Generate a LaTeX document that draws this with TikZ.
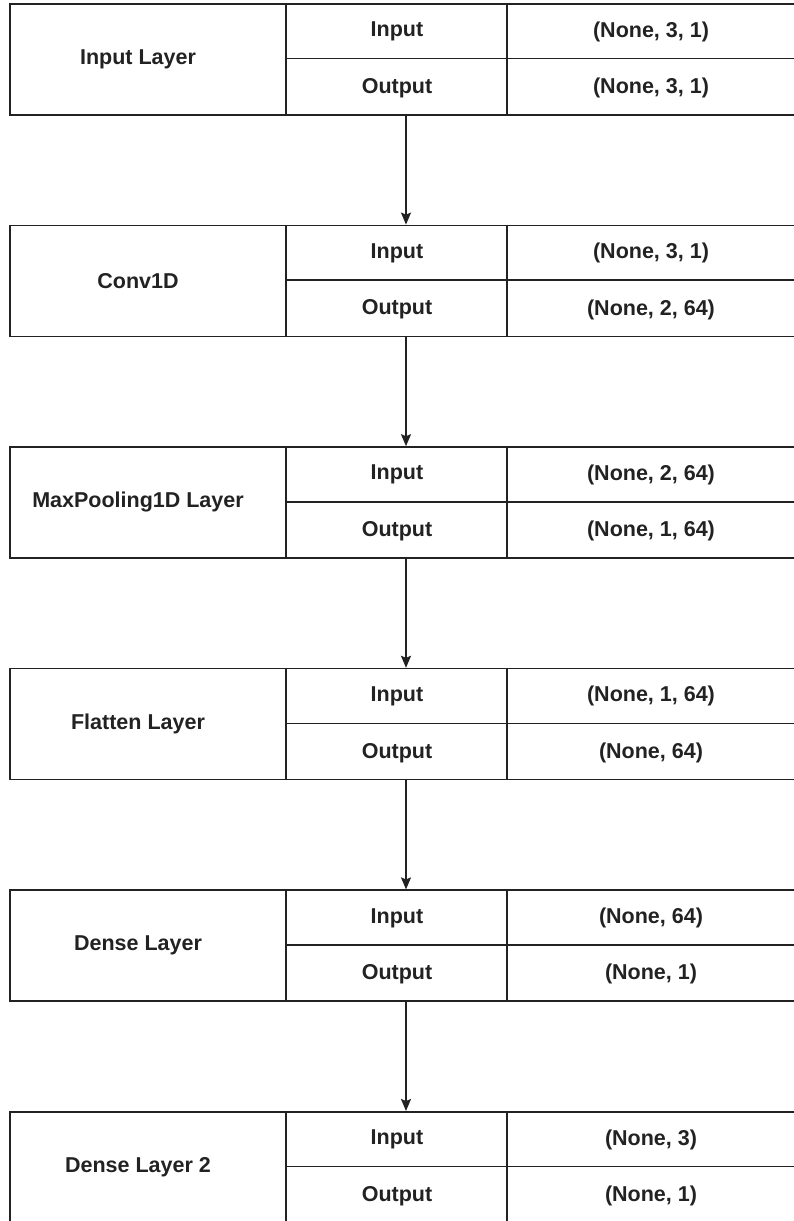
\documentclass[tikz,border=0pt]{standalone}
\usepackage{fontspec}
\setmainfont{Liberation Sans}
\usetikzlibrary{arrows.meta}
\definecolor{ink}{HTML}{222222}
\begin{document}
\begin{tikzpicture}[x=1pt,y=-1pt,
  layerbox/.style={draw=ink,line width=1.6pt,inner sep=0pt},
  cell/.style={font=\fontsize{21.5}{26}\selectfont\bfseries,text=ink,inner sep=0pt,anchor=center},
  flow/.style={draw=ink,line width=1.6pt,-{Stealth[length=12pt,width=10pt,inset=2pt]}}]
\useasboundingbox (0,0) rectangle (794,1221);
\foreach \i/\name/\inp/\outp in {
  0/Input Layer/{(None, 3, 1)}/{(None, 3, 1)},
  1/Conv1D/{(None, 3, 1)}/{(None, 2, 64)},
  2/MaxPooling1D Layer/{(None, 2, 64)}/{(None, 1, 64)},
  3/Flatten Layer/{(None, 1, 64)}/{(None, 64)},
  4/Dense Layer/{(None, 64)}/{(None, 1)},
  5/Dense Layer 2/{(None, 3)}/{(None, 1)}}{
  \pgfmathsetmacro{\t}{3+221.6*\i}
  \node[layerbox,minimum width=800pt,minimum height=111pt,anchor=north west] (L\i) at (9,\t) {};
  \draw[ink,line width=1.6pt] (286,\t) -- (286,\t+111);
  \draw[ink,line width=1.6pt] (507,\t) -- (507,\t+111);
  \draw[ink,line width=1.6pt] (286,\t+55.5) -- (810,\t+55.5);
  \node[cell] (N\i) at (138,\t+56) {\name};
  \node[cell] (I\i) at (397,\t+28.5) {Input};
  \node[cell] (O\i) at (397,\t+85) {Output};
  \node[cell] (IV\i) at (651,\t+28.5) {\inp};
  \node[cell] (OV\i) at (651,\t+85) {\outp};
}
\foreach \a/\b in {0/1,1/2,2/3,3/4,4/5}{
  \draw[flow] (L\a.south -| 406,0) -- (L\b.north -| 406,0);
}
\end{tikzpicture}
\end{document}
